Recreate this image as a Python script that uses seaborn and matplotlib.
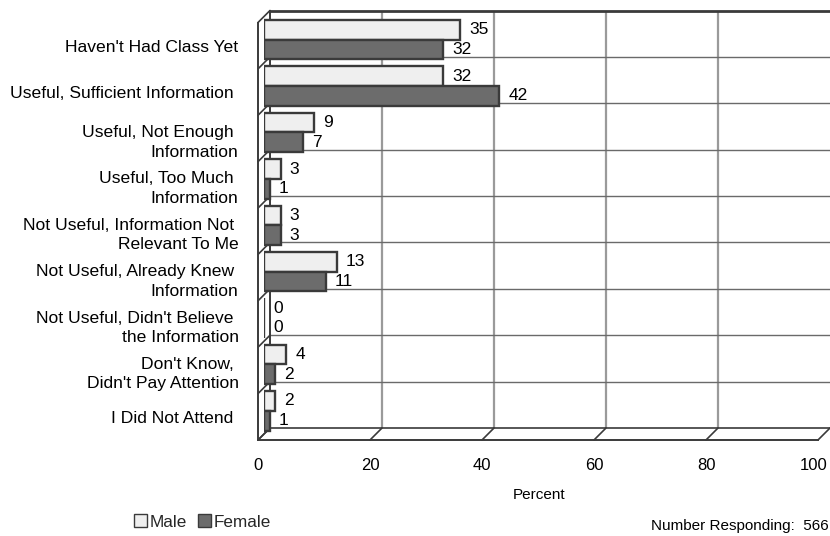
import matplotlib
matplotlib.use("Agg")
import matplotlib.pyplot as plt
import matplotlib.transforms as mtransforms
import seaborn as sns
import pandas as pd
from matplotlib.patches import Patch, ConnectionPatch

# ---- data -------------------------------------------------------------
categories = [
    "Haven't Had Class Yet",
    "Useful, Sufficient Information ",
    "Useful, Not Enough \nInformation",
    "Useful, Too Much \nInformation",
    "Not Useful, Information Not \nRelevant To Me",
    "Not Useful, Already Knew \nInformation",
    "Not Useful, Didn't Believe \nthe Information",
    "Don't Know, \nDidn't Pay Attention",
    "I Did Not Attend ",
]
male = [35, 32, 9, 3, 3, 13, 0, 4, 2]
female = [32, 42, 7, 1, 3, 11, 0, 2, 1]
groups = ["Male", "Female"]
x_ticks = [0, 20, 40, 60, 80, 100]
x_label = "Percent"
respondents = 566

df = pd.DataFrame({
    "answer": categories * 2,
    "percent": male + female,
    "sex": [groups[0]] * len(categories) + [groups[1]] * len(categories),
})

# ---- style ------------------------------------------------------------
sns.set_theme(style="white")
plt.rcParams["font.family"] = ["Liberation Sans", "DejaVu Sans"]

MALE_C = "#efefef"
FEMALE_C = "#6c6c6c"
EDGE_C = "#3a3a3a"
FRAME_C = "#3a3a3a"

W, H = 830, 536
fig = plt.figure(figsize=(W / 100, H / 100), dpi=100)
fig.patch.set_facecolor("white")


def rect(left, top, right, bottom):
    return [left / W, 1 - bottom / H, (right - left) / W, (bottom - top) / H]


# front plane, back wall, and the mid-depth plane the bars live on
DX, DY = 12, 12
FL, FT, FR, FB = 258, 22.5, 818, 440
ax_back = fig.add_axes(rect(FL + DX, FT - DY, FR + DX, FB - DY))
ax_bar = fig.add_axes(rect(FL + DX / 2, FT - DY / 2, FR + DX / 2, FB - DY / 2))
ax_front = fig.add_axes(rect(FL, FT, FR, FB))

n = len(categories)
for ax in (ax_back, ax_bar, ax_front):
    ax.set_xlim(0, 100)
    ax.set_ylim(n - 0.5, -0.5)

# ---- back wall ----------------------------------------------------------
ax_back.set_zorder(0)
for v in x_ticks[1:-1]:
    ax_back.axvline(v, color="#9a9a9a", lw=1.6, zorder=1)
for k in range(n - 1):
    ax_back.axhline(k + 0.5, color="#6a6a6a", lw=1.0, zorder=1)
ax_back.spines["right"].set_visible(False)
ax_back.spines["top"].set_color(FRAME_C)
ax_back.spines["top"].set_linewidth(2.0)
ax_back.spines["left"].set_color(FRAME_C)
ax_back.spines["left"].set_linewidth(1.4)
ax_back.spines["bottom"].set_color(FRAME_C)
ax_back.spines["bottom"].set_linewidth(1.2)
ax_back.set_xticks([])
ax_back.set_yticks([])


# side wall and floor edges joining front plane to back wall
def depth_line(x, y):
    con = ConnectionPatch(xyA=(x, y), coordsA=ax_front.transData,
                          xyB=(x, y), coordsB=ax_back.transData,
                          color=FRAME_C, lw=1.2, zorder=2)
    fig.add_artist(con)


for k in range(n + 1):
    depth_line(0, k - 0.5)
for v in x_ticks:
    depth_line(v, n - 0.5)

# ---- bars ---------------------------------------------------------------
ax_bar.set_zorder(2)
ax_bar.patch.set_visible(False)
sns.barplot(data=df, y="answer", x="percent", hue="sex", orient="h",
            palette={groups[0]: MALE_C, groups[1]: FEMALE_C}, saturation=1,
            width=0.85, edgecolor=EDGE_C, linewidth=1.7, legend=False,
            ax=ax_bar)
ax_bar.set_xlim(0, 100)
ax_bar.set_ylim(n - 0.5, -0.5)
for cont in ax_bar.containers:
    ax_bar.bar_label(cont, fmt="%d", padding=6.5, fontsize=12.5, color="black")
for s in ax_bar.spines.values():
    s.set_visible(False)
ax_bar.set_xticks([])
ax_bar.set_yticks([])
ax_bar.set_xlabel("")
ax_bar.set_ylabel("")

# ---- front axes: ticks and labels ---------------------------------------
ax_front.set_zorder(3)
ax_front.patch.set_visible(False)
ax_front.spines["top"].set_visible(False)
ax_front.spines["right"].set_visible(False)
for side in ("left", "bottom"):
    ax_front.spines[side].set_color(FRAME_C)
    ax_front.spines[side].set_linewidth(1.4)
ax_front.set_xticks(x_ticks)
ax_front.set_xticklabels([str(v) for v in x_ticks], fontsize=12)
ax_front.set_xticks(range(0, 101, 5), minor=True)
ax_front.tick_params(axis="x", which="major", direction="out", length=4.5,
                     width=1.0, color=FRAME_C, pad=8.5, labelcolor="black")
ax_front.tick_params(axis="x", which="minor", direction="out", length=3.5,
                     width=1.0, color=FRAME_C)
# keep the last tick label inside the figure edge
last = ax_front.get_xticklabels()[-1]
last.set_transform(last.get_transform() +
                   mtransforms.ScaledTranslation(-4 / 100, 0, fig.dpi_scale_trans))
ax_front.set_yticks(range(n))
ax_front.set_yticklabels(categories, fontsize=12.6)
for lab in ax_front.get_yticklabels():
    lab.set_linespacing(1.38)
ax_front.tick_params(axis="y", which="major", direction="out", length=6.5,
                     width=1.0, color=FRAME_C, pad=7.5, labelcolor="black")
ax_front.tick_params(axis="y", which="minor", length=0)
ax_front.grid(False)

# ---- annotations --------------------------------------------------------
fig.text(539 / W, 1 - 495 / H, x_label, ha="center", va="center",
         fontsize=11, color="black")
fig.text(829 / W, 1 - 526 / H, f"Number Responding:  {respondents}",
         ha="right", va="center", fontsize=11, color="black")

handles = [Patch(facecolor=MALE_C, edgecolor=EDGE_C, lw=1.0),
           Patch(facecolor=FEMALE_C, edgecolor=EDGE_C, lw=1.0)]
fig.legend(handles=handles, labels=groups, loc="center left",
           bbox_to_anchor=(134 / W, 1 - 522 / H), ncol=2, frameon=False,
           handlelength=0.75, handleheight=0.75, handletextpad=0.15,
           columnspacing=0.65, borderaxespad=0, borderpad=0, fontsize=12.3)

fig.savefig("out.png", dpi=100, facecolor="white")
